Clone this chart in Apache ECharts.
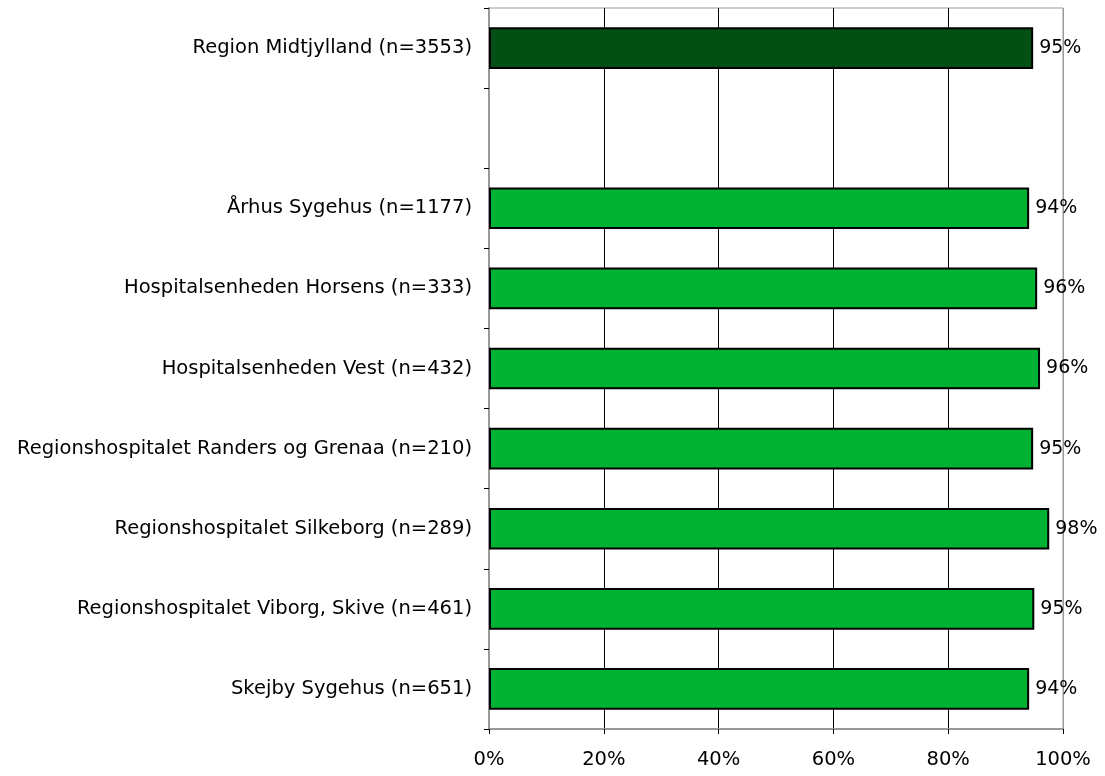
<!DOCTYPE html>
<html>
<head>
<meta charset="utf-8">
<script src="https://cdn.jsdelivr.net/npm/echarts@6/dist/echarts.min.js"></script>
<style>
  html, body { margin: 0; padding: 0; background: #fff; }
  #main { width: 1105px; height: 776px; }
</style>
</head>
<body>
<div id="main"></div>
<script>
// kategorier (tom plads mellem region og sygehuse)
var categories = [
    'Region Midtjylland (n=3553)',
    '',
    'Århus Sygehus (n=1177)',
    'Hospitalsenheden Horsens (n=333)',
    'Hospitalsenheden Vest (n=432)',
    'Regionshospitalet Randers og Grenaa (n=210)',
    'Regionshospitalet Silkeborg (n=289)',
    'Regionshospitalet Viborg, Skive (n=461)',
    'Skejby Sygehus (n=651)'
];
// andel i procent, '-' = ingen søjle
var values = [94.8, '-', 94.1, 95.5, 96.0, 94.8, 97.6, 95.0, 94.1];
var xTicks = [0, 20, 40, 60, 80, 100];

var darkGreen = '#034f14';
var lightGreen = '#00b233';

var font = 'DejaVu Sans';

var barData = values.map(function (v, i) {
    if (v === '-') return '-';
    return {
        value: v,
        itemStyle: { color: i === 0 ? darkGreen : lightGreen }
    };
});

var myChart = echarts.init(document.getElementById('main'));

var option = {
    animation: false,
    grid: {
        left: 489,
        right: 42,
        top: 8,
        bottom: 47,
        show: true,
        borderColor: '#999',
        borderWidth: 1,
        containLabel: false
    },
    xAxis: {
        type: 'value',
        min: xTicks[0],
        max: xTicks[xTicks.length - 1],
        interval: 20,
        axisLine: { show: true, lineStyle: { color: '#999', width: 2 } },
        axisTick: { show: true, length: 5, lineStyle: { color: '#000' } },
        axisLabel: {
            color: '#000',
            fontFamily: font,
            fontSize: 19.5,
            margin: 21,
            formatter: function (v) { return v + '%'; }
        },
        splitLine: {
            show: true,
            lineStyle: { color: ['#999', '#000', '#000', '#000', '#000', '#999'], width: 1 }
        }
    },
    yAxis: {
        type: 'category',
        inverse: true,
        data: categories,
        axisLine: { show: true, lineStyle: { color: '#999', width: 2 } },
        axisTick: { show: true, length: 5, lineStyle: { color: '#000' } },
        axisLabel: {
            color: '#000',
            fontFamily: font,
            fontSize: 19.5,
            margin: 17
        },
        splitLine: { show: false }
    },
    series: [{
        type: 'bar',
        data: barData,
        barWidth: '52%',
        itemStyle: { borderColor: '#000', borderWidth: 2 },
        label: {
            show: true,
            position: 'right',
            distance: 6,
            color: '#000',
            fontFamily: font,
            fontSize: 19,
            formatter: function (p) { return Math.round(p.value) + '%'; }
        }
    }]
};

myChart.setOption(option);
</script>
</body>
</html>
